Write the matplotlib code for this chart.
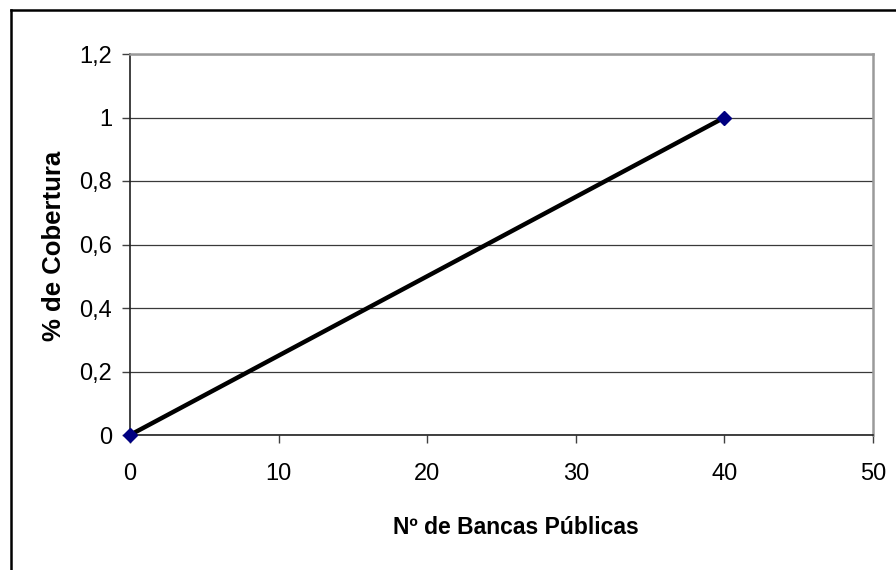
import matplotlib
matplotlib.use("Agg")
import matplotlib.pyplot as plt
from matplotlib.lines import Line2D
from matplotlib.ticker import FuncFormatter

# data
bancas = [0, 40]
cobertura = [0, 1]
x_ticks = [0, 10, 20, 30, 40, 50]
y_ticks = [0, 0.2, 0.4, 0.6, 0.8, 1.0, 1.2]

plt.rcParams["font.family"] = ["Liberation Sans", "DejaVu Sans"]

W, H = 896, 570
fig = plt.figure(figsize=(W / 100, H / 100), dpi=100)
ax = fig.add_axes([130 / W, (H - 435) / H, 743 / W, 381 / H])

ax.plot(bancas, cobertura, color="black", lw=3.2, zorder=3, clip_on=False,
        marker="D", markersize=7, markerfacecolor="#000080",
        markeredgecolor="#000080")

ax.set_xlim(0, 50)
ax.set_ylim(0, 1.2)
ax.set_xticks(x_ticks)
ax.set_yticks(y_ticks)

comma = FuncFormatter(lambda v, p: f"{v:g}".replace(".", ","))
ax.yaxis.set_major_formatter(comma)
ax.xaxis.set_major_formatter(comma)

ax.grid(axis="y", color="#3a3a3a", lw=0.9)
ax.set_axisbelow(True)

for side in ["top", "right"]:
    ax.spines[side].set_color("#9a9a9a")
    ax.spines[side].set_linewidth(1.8)
ax.spines["left"].set_color("#202020")
ax.spines["left"].set_linewidth(1.2)
ax.spines["bottom"].set_color("#202020")
ax.spines["bottom"].set_linewidth(1.2)

ax.tick_params(axis="both", direction="out", length=6, width=1, color="#404040",
               labelsize=17)
ax.tick_params(axis="x", pad=14)
ax.tick_params(axis="y", pad=7)

ax.set_xlabel("Nº de Bancas Públicas", fontsize=16.5, fontweight="bold")
ax.set_ylabel("% de Cobertura", fontsize=18.5, fontweight="bold")
ax.xaxis.set_label_coords(0.52, -0.213)
ax.yaxis.set_label_coords(-0.086, 0.497)

# outer frame (only left and top edges show in the original)
fig.add_artist(Line2D([10.5 / W, 10.5 / W], [-0.05, (H - 9.5) / H], color="black",
                      lw=1.8, transform=fig.transFigure))
fig.add_artist(Line2D([10.5 / W, 1.05], [(H - 9.5) / H, (H - 9.5) / H], color="black",
                      lw=1.8, transform=fig.transFigure))

fig.savefig("out.png", dpi=100)
